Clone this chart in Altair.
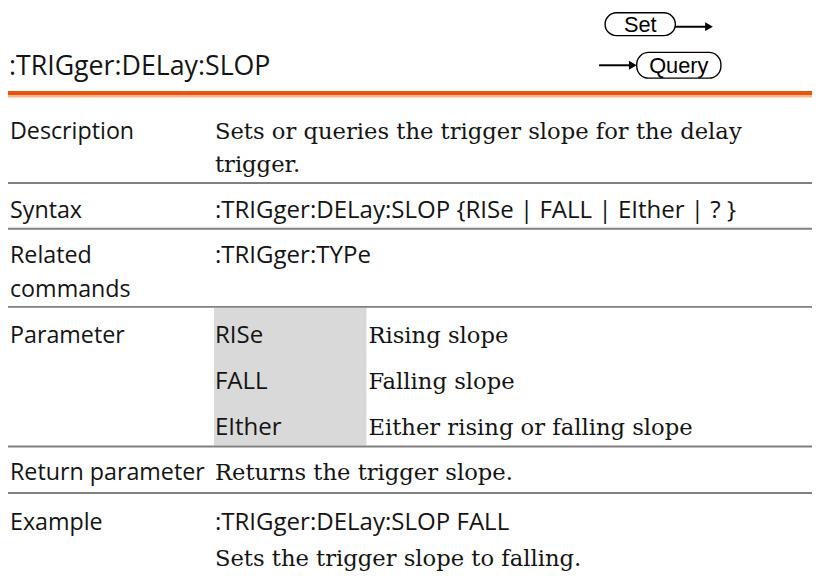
import altair as alt
import pandas as pd

# ---------------- content ----------------
TITLE = ":TRIGger:DELay:SLOP"
BUTTONS = ["Set", "Query"]

LABELS = ["Description", "Syntax", "Related", "commands", "Parameter",
          "Return parameter", "Example"]
CODE_TEXTS = [":TRIGger:DELay:SLOP {RISe | FALL | EIther | ? }",
              ":TRIGger:TYPe", "RISe", "FALL", "EIther",
              ":TRIGger:DELay:SLOP FALL"]
PROSE_TEXTS = ["Sets or queries the trigger slope for the delay", "trigger.",
               "Rising slope", "Falling slope", "Either rising or falling slope",
               "Returns the trigger slope.", "Sets the trigger slope to falling."]

# ---------------- layout (page pixels) ----------------
COL1, COL2, COL3 = 10, 217, 372
LABEL_Y = [137, 217, 263, 297, 343, 482, 532]
CODE_X = [COL2] * 6
CODE_Y = [217, 263, 343, 390, 436, 532]
PROSE_X = [COL2, COL2, COL3, COL3, COL3, COL2, COL2]
PROSE_Y = [137, 171, 343, 390, 436, 482, 569]
RULE_Y = [182, 228, 307, 448, 495]

X_SCALE = alt.Scale(domain=[8, 820], nice=False, zero=False)
Y_SCALE = alt.Scale(domain=[8, 581], nice=False, zero=False, reverse=True)


def X(f):
    return alt.X(f, type="quantitative", scale=X_SCALE, axis=None)


def Y(f):
    return alt.Y(f, type="quantitative", scale=Y_SCALE, axis=None)


SANS = "Open Sans"
SERIF = "DejaVu Serif"
INK = "#141414"

# title
title_df = pd.DataFrame({"x": [9], "y": [73], "t": [TITLE]})
title = alt.Chart(title_df).mark_text(
    font=SANS, fontSize=27, align="left", baseline="alphabetic", color=INK
).encode(x=X("x"), y=Y("y"), text="t:N")

# orange header rule
orange_df = pd.DataFrame({"x": [8], "x2": [820], "y": [89], "y2": [93]})
orange = alt.Chart(orange_df).mark_rect(color="#E8530E").encode(
    x=X("x"), x2="x2", y=Y("y"), y2="y2")
peach_df = pd.DataFrame({"x": [8], "x2": [820], "y": [93], "y2": [95.5]})
peach = alt.Chart(peach_df).mark_rect(color="#F7B78C").encode(
    x=X("x"), x2="x2", y=Y("y"), y2="y2")

# grey separators
rules_df = pd.DataFrame({"x": [8] * len(RULE_Y), "x2": [820] * len(RULE_Y),
                         "y": [r - 1 for r in RULE_Y], "y2": [r + 1 for r in RULE_Y]})
rules = alt.Chart(rules_df).mark_rect(color="#808080").encode(
    x=X("x"), x2="x2", y=Y("y"), y2="y2")

# shaded parameter column
shade_df = pd.DataFrame({"x": [216], "x2": [370], "y": [308], "y2": [447]})
shade = alt.Chart(shade_df).mark_rect(color="#D9D9D9").encode(
    x=X("x"), x2="x2", y=Y("y"), y2="y2")

# labels (column 1)
lab_df = pd.DataFrame({"x": [COL1] * len(LABELS), "y": LABEL_Y, "t": LABELS})
labels = alt.Chart(lab_df).mark_text(
    font=SANS, fontSize=23.5, align="left", baseline="alphabetic", color=INK
).encode(x=X("x"), y=Y("y"), text="t:N")

# code / parameter names
code_df = pd.DataFrame({"x": CODE_X, "y": CODE_Y, "t": CODE_TEXTS})
code = alt.Chart(code_df).mark_text(
    font=SANS, fontSize=24.3, align="left", baseline="alphabetic", color=INK
).encode(x=X("x"), y=Y("y"), text="t:N")

# serif prose
prose_df = pd.DataFrame({"x": PROSE_X, "y": PROSE_Y, "t": PROSE_TEXTS})
prose = alt.Chart(prose_df).mark_text(
    font=SERIF, fontSize=22.9, align="left", baseline="alphabetic", color=INK
).encode(x=X("x"), y=Y("y"), text="t:N")

# Set / Query buttons
btn_df = pd.DataFrame({"x": [611, 643], "x2": [682, 728],
                       "y": [10, 50], "y2": [33, 76], "t": BUTTONS,
                       "cx": [646.5, 685.5], "cy": [22, 63.5]})
btn_box = alt.Chart(btn_df).mark_rect(
    fill="white", stroke="black", strokeWidth=1.4, cornerRadius=12
).encode(x=X("x"), x2="x2", y=Y("y"), y2="y2")
btn_text = alt.Chart(btn_df).mark_text(
    font="Liberation Sans", fontSize=22, align="center", baseline="middle", color="black"
).encode(x=X("cx"), y=Y("cy"), text="t:N")

arrow_df = pd.DataFrame({"x": [682, 605], "x2": [714, 637], "y": [24, 63],
                         "hx": [716, 639]})
arrow_line = alt.Chart(arrow_df).mark_rule(color="black", strokeWidth=2).encode(
    x=X("x"), x2="x2", y=Y("y"))
arrow_head = alt.Chart(arrow_df).mark_point(
    shape="triangle-right", filled=True, color="black", size=80, opacity=1
).encode(x=X("hx"), y=Y("y"))

chart = alt.layer(
    shade, orange, peach, rules, title, labels, code, prose,
    arrow_line, arrow_head, btn_box, btn_text
).properties(
    width=812, height=573,
    autosize=alt.AutoSizeParams(type="none"),
    padding=0,
    background="white",
).configure_view(strokeWidth=0)

chart.save("out.html", embed_options={"renderer": "svg", "actions": False})
